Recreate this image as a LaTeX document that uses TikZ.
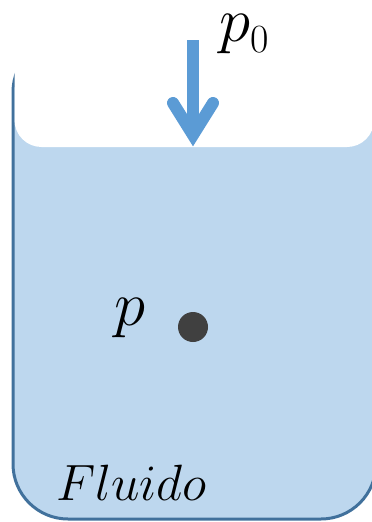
\RequirePackage{fix-cm}
\documentclass[tikz,border=0pt]{standalone}
\usepackage{amsmath}
\definecolor{fluidfill}{HTML}{BDD7EE}
\definecolor{fluidline}{HTML}{41719C}
\definecolor{arrowblue}{HTML}{5B9BD5}
\definecolor{dotgray}{HTML}{404040}
\tikzset{
  vessel/.style={draw=fluidline, fill=fluidfill, line width=3pt, rounded corners=55pt},
  airgap/.style={fill=white, rounded corners=27pt},
  pushline/.style={draw=arrowblue, line width=12pt},
  label/.style={inner sep=0pt, font=\fontsize{63}{65}\selectfont}
}
\begin{document}
\begin{tikzpicture}[x=1pt, y=-1pt]

    % Fixed frame of the picture
    \useasboundingbox (0,0) rectangle (372,522);

    % Vessel with fluid and the free space above it
    \path[vessel] (13,37) rectangle (376,519);
    \path[airgap] (14.5,-30) rectangle (374,147);

    % Pressure arrow on the free surface
    \coordinate (top) at (193,40);
    \coordinate (tip) at (193,135);
    \coordinate (wl) at (173,103);
    \coordinate (wr) at (213,103);
    \draw[pushline] (top) -- (tip);
    \draw[pushline, line cap=round, line join=miter] (wl) -- (tip) -- (wr);

    % Labels and the point inside the fluid
    \node[label, anchor=base west] (pzero) at (219,41)
      {$p$\raisebox{-11pt}{\fontsize{40}{40}\selectfont 0}};
    \node[circle, fill=dotgray, inner sep=0pt, minimum size=30pt] (pt) at (193,327) {};
    \node[label, anchor=base west] (pin) at (114,325) {$p$};
    \node[label, anchor=base west, font=\fontsize{51}{53}\selectfont] (fl) at (56,500) {$Fluido$};

\end{tikzpicture}
\end{document}
